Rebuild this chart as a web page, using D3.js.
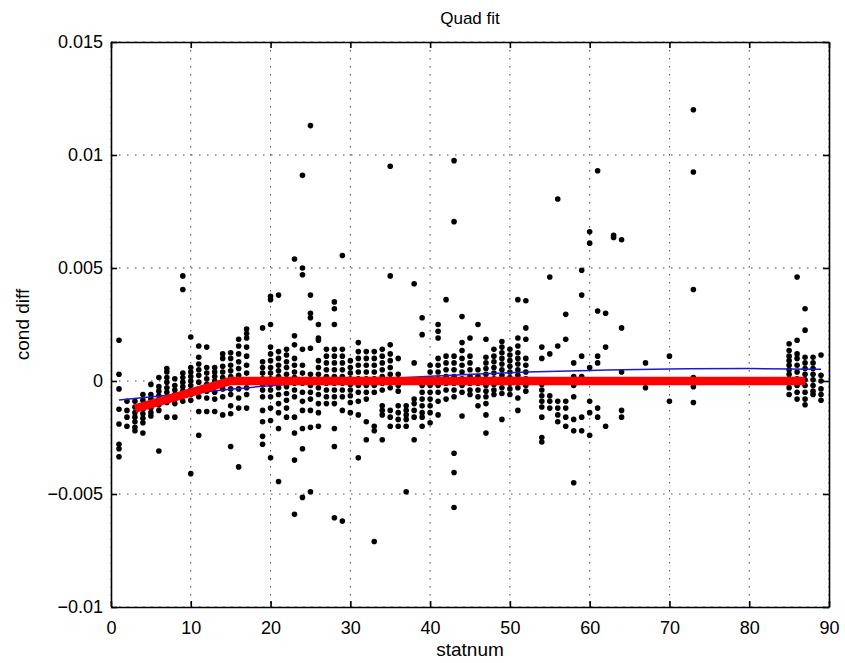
<!DOCTYPE html>
<html>
<head>
<meta charset="utf-8">
<script src="https://cdn.jsdelivr.net/npm/d3@7"></script>
<style>
body { margin: 0; background: #fff; }
text { font-family: "Liberation Sans", Arial, Helvetica, sans-serif; fill: #000; }
</style>
</head>
<body>
<div id="chart"></div>
<script>
//////////////////////////////////////////////
// Data //////////////////////////////////////
//////////////////////////////////////////////
// station numbers and cond diff values (units of 1e-3)
var statnums = [1, 2, 3, 4, 5, 6, 7, 8, 9, 10, 11, 12, 13, 14, 15, 16, 17, 19, 20,
  21, 22, 23, 24, 25, 26, 27, 28, 29, 30, 31, 32, 33, 34, 35, 36, 37, 38, 39, 40,
  41, 42, 43, 44, 45, 46, 47, 48, 49, 50, 51, 52, 54, 55, 56, 57, 58, 59, 60,
  61, 62, 63, 64, 67, 70, 73, 85, 86, 87, 88, 89];

var condDiffMilli = [
  [1.8, 0.3, -0.35, -1.25, -1.9, -2.8, -3.0, -3.35],
  [-0.9, -1.3, -1.6, -2.0],
  [-0.9, -1.15, -1.4, -1.6, -1.8, -2.05, -2.2],
  [-0.6, -0.85, -1.05, -1.25, -1.45, -1.65, -1.85, -2.3],
  [-0.15, -0.6, -0.8, -1.0, -1.2, -1.4, -1.55],
  [0.15, -0.25, -0.45, -0.65, -0.85, -1.05, -1.3, -3.1],
  [0.55, 0.4, 0.15, -0.05, -0.3, -0.5, -0.7, -0.95, -1.6],
  [0.1, -0.2, -0.4, -0.6, -0.8, -1.0, -1.6],
  [4.65, 4.05, 0.35, 0.15, -0.05, -0.25, -0.45, -0.65, -0.9],
  [1.95, 0.6, 0.4, 0.2, 0.0, -0.2, -0.4, -0.6, -0.85, -4.1],
  [1.55, 1.05, 0.75, 0.5, 0.25, -0.05, -0.35, -0.7, -1.35, -2.4],
  [1.5, 0.6, 0.35, 0.1, -0.15, -0.45, -0.75, -1.35],
  [0.6, 0.4, 0.2, 0.0, -0.25, -0.5, -0.8, -1.35],
  [1.2, 1.0, 0.65, 0.4, 0.15, -0.1, -0.35, -0.7, -1.5],
  [1.25, 1.0, 0.7, 0.45, 0.2, -0.05, -0.35, -0.6, -1.1, -1.45, -2.9],
  [1.85, 1.55, 1.2, 0.85, 0.55, 0.25, -0.05, -0.35, -0.75, -1.2, -3.8],
  [2.3, 2.1, 1.9, 1.5, 1.1, 0.7, 0.35, 0.05, -0.3, -0.6, -1.2],
  [2.35, 0.85, 0.6, 0.35, 0.1, -0.15, -0.4, -0.7, -1.3, -1.8, -2.45, -2.8],
  [3.75, 3.6, 2.5, 1.5, 1.2, 0.9, 0.6, 0.35, 0.1, -0.15, -0.4, -0.7, -1.2, -1.75, -3.4],
  [3.8, 1.3, 1.0, 0.7, 0.45, 0.2, -0.05, -0.3, -0.6, -1.0, -1.4, -2.1, -4.45],
  [1.4, 1.15, 0.85, 0.6, 0.3, 0.05, -0.25, -0.55, -0.85, -1.2, -1.6],
  [5.4, 2.0, 1.6, 1.0, 0.7, 0.4, 0.15, -0.1, -0.4, -0.7, -1.6, -2.3, -3.5, -5.9],
  [9.1, 5.0, 4.7, 1.4, 0.7, 0.35, -0.1, -0.5, -0.9, -1.3, -2.1, -3.0, -5.15],
  [11.3, 3.8, 3.0, 2.8, 1.45, 0.3, -0.2, -0.5, -0.8, -1.3, -2.05, -4.9],
  [2.5, 1.9, 1.8, 0.9, 0.6, 0.3, 0.0, -0.3, -0.6, -1.0, -1.4, -2.0],
  [1.4, 1.1, 0.8, 0.5, 0.2, -0.1, -0.4, -0.7, -1.0],
  [3.5, 3.2, 2.5, 1.4, 1.1, 0.8, 0.5, 0.2, -0.1, -0.4, -0.7, -1.0, -2.1, -2.9, -6.05],
  [5.55, 1.4, 1.1, 0.8, 0.5, 0.2, -0.1, -0.4, -0.7, -1.3, -6.2],
  [0.9, 0.6, 0.35, 0.1, -0.15, -0.4, -0.65, -0.95, -1.4],
  [1.7, 1.3, 1.0, 0.7, 0.4, 0.1, -0.2, -0.5, -0.9, -1.5, -3.4],
  [1.3, 1.0, 0.7, 0.4, 0.1, -0.2, -0.5, -0.8, -1.8, -2.6],
  [1.3, 1.0, 0.7, 0.4, 0.1, -0.2, -0.5, -2.0, -2.2, -7.1],
  [1.4, 1.1, 0.8, 0.5, 0.2, -0.1, -0.4, -1.1, -1.3, -1.5, -2.6],
  [9.5, 4.65, 1.6, 1.2, 0.9, 0.6, 0.3, 0.0, -0.3, -1.3, -1.6, -2.0],
  [1.0, 0.3, 0.05, -0.2, -0.45, -1.1, -1.4, -1.7, -2.0],
  [-1.1, -1.3, -1.5, -1.7, -2.0, -4.9],
  [4.3, 0.8, -0.8, -1.0, -1.3, -1.6, -2.6],
  [2.8, 2.05, -0.2, -0.5, -0.8, -1.1, -1.4, -1.6, -2.0],
  [0.7, 0.4, 0.1, -0.2, -0.5, -0.8, -1.1, -1.4, -1.85],
  [2.5, 2.2, 1.9, 1.0, 0.7, 0.4, 0.1, -0.2, -0.5, -0.9, -1.5],
  [3.6, 1.1, 0.8, 0.5, 0.2, -0.1, -0.4, -0.8],
  [9.75, 7.05, 1.1, 0.8, 0.5, 0.2, -0.1, -0.4, -0.7, -3.2, -4.05, -5.6],
  [2.85, 1.7, 1.35, 1.0, 0.7, 0.4, 0.1, -0.2, -0.5, -1.55],
  [1.9, 1.1, 0.8, 0.5, 0.2, -0.1, -0.4, -0.6],
  [2.5, 0.5, 0.2, -0.1, -0.4, -0.7, -1.1],
  [1.85, 1.05, 0.8, 0.55, 0.3, 0.05, -0.2, -0.45, -0.7, -1.0, -1.5, -2.3],
  [1.4, 1.1, 0.85, 0.6, 0.35, 0.1, -0.15, -0.4, -0.6],
  [1.75, 1.5, 1.25, 1.0, 0.75, 0.5, 0.25, 0.0, -0.3, -0.55, -1.7],
  [1.4, 1.15, 0.9, 0.65, 0.4, 0.15, -0.1, -0.35, -0.6],
  [3.6, 1.9, 1.55, 1.25, 1.0, 0.75, 0.5, 0.25, 0.0, -0.3, -0.75, -1.3],
  [3.55, 2.35, 1.85, 1.0, 0.7, 0.4, 0.1, -0.2, -0.45],
  [1.5, 1.0, -0.15, -0.4, -0.65, -0.9, -1.15, -1.6, -2.5, -2.7],
  [4.6, 1.2, -0.65, -0.9, -1.2],
  [8.05, 1.55, -0.9, -1.2, -1.5, -1.8],
  [2.95, 1.85, -0.9, -1.2, -1.6, -2.0],
  [0.8, 0.2, -0.2, -0.7, -1.7, -2.2, -4.5],
  [4.9, 3.8, 1.1, 0.2, -1.6, -2.2],
  [6.6, 6.1, 0.6, -0.9, -1.4, -2.4],
  [9.3, 3.1, 1.1, 0.8, -1.2, -1.6],
  [3.0, 1.5, -2.0],
  [6.45, 6.35],
  [6.25, 2.35, 0.4, -1.3, -1.6],
  [0.8, -0.3],
  [1.1, -0.9],
  [12.0, 9.25, 4.05, 0.15, -0.25, -0.95],
  [1.65, 1.35, 1.1, 0.9, 0.7, 0.5, 0.3, 0.1, -0.1, -0.3, -0.6],
  [4.6, 1.8, 1.2, 1.0, 0.7, 0.4, 0.1, -0.2, -0.5, -0.8],
  [3.2, 2.25, 1.05, 0.8, 0.55, 0.3, 0.05, -0.2, -0.5, -0.8, -1.05],
  [1.05, 0.8, 0.55, 0.3, 0.05, -0.2, -0.45, -0.6],
  [1.15, 0.25, 0.0, -0.35, -0.6, -0.85]
];

// piecewise fit (red)
var pieceX = [3, 15, 87];
var pieceY = [-0.00122, 0, 0];

// quad fit (blue), read at a few stations
var quadX = [1, 10, 20, 30, 40, 50, 60, 70, 80, 89];
var quadY = [-0.00084, -0.00053, -0.00021, 0.00001, 0.00021, 0.00037, 0.00047, 0.000535, 0.00055, 0.00052];

// ticks
var xTicks = [0, 10, 20, 30, 40, 50, 60, 70, 80, 90];
var yTicks = [-0.01, -0.005, 0, 0.005, 0.01, 0.015];
var yTickLabels = ["\u22120.01", "\u22120.005", "0", "0.005", "0.01", "0.015"];

// flatten to points
var points = [];
statnums.forEach(function(s, i) {
  condDiffMilli[i].forEach(function(v) {
    points.push({x: s, y: v / 1000});
  });
});

//////////////////////////////////////////////
// Chart Config /////////////////////////////
//////////////////////////////////////////////
var margin = {top: 42, right: 16, bottom: 56, left: 111};
var width = 845 - margin.left - margin.right,
    height = 663 - margin.top - margin.bottom;

var xScale = d3.scaleLinear().domain([0, 90]).range([0, width]);
var yScale = d3.scaleLinear().domain([-0.01, 0.015]).range([height, 0]);

var svg = d3.select("#chart")
  .append("svg")
  .attr("width", 845)
  .attr("height", 663);

var artboard = svg.append("g")
  .attr("transform", "translate(" + margin.left + "," + margin.top + ")");

// grid (dotted)
var grid = artboard.append("g").attr("class", "grid")
  .style("stroke", "#444")
  .style("stroke-width", 1)
  .style("stroke-dasharray", "1.5,6.5");

grid.selectAll(".gx").data(xTicks).enter().append("line")
  .attr("x1", function(d) { return xScale(d); })
  .attr("x2", function(d) { return xScale(d); })
  .attr("y1", 0).attr("y2", height);

grid.selectAll(".gy").data(yTicks).enter().append("line")
  .attr("y1", function(d) { return yScale(d); })
  .attr("y2", function(d) { return yScale(d); })
  .attr("x1", 0).attr("x2", width);

// scatter
artboard.append("g").selectAll("circle")
  .data(points)
  .enter().append("circle")
  .attr("cx", function(d) { return xScale(d.x); })
  .attr("cy", function(d) { return yScale(d.y); })
  .attr("r", 2.8)
  .style("fill", "#000");

// quad fit line
var quadLine = d3.line()
  .curve(d3.curveNatural)
  .x(function(d, i) { return xScale(quadX[i]); })
  .y(function(d) { return yScale(d); });

artboard.append("path")
  .datum(quadY)
  .attr("d", quadLine)
  .style("fill", "none")
  .style("stroke", "#1a1ad0")
  .style("stroke-width", 1.5);

// piecewise line
var pieceLine = d3.line()
  .x(function(d, i) { return xScale(pieceX[i]); })
  .y(function(d) { return yScale(d); });

artboard.append("path")
  .datum(pieceY)
  .attr("d", pieceLine)
  .style("fill", "none")
  .style("stroke", "#ff0000")
  .style("stroke-width", 8.5);

// axes, ticks inward on all four sides
var xAxis = d3.axisBottom(xScale).tickValues(xTicks).tickSize(-6).tickSizeOuter(0).tickPadding(14);
var yAxis = d3.axisLeft(yScale).tickValues(yTicks).tickSize(-6).tickSizeOuter(0).tickPadding(8)
  .tickFormat(function(d, i) { return yTickLabels[i]; });
var xAxisTop = d3.axisTop(xScale).tickValues(xTicks).tickSize(-6).tickSizeOuter(0).tickFormat("");
var yAxisRight = d3.axisRight(yScale).tickValues(yTicks).tickSize(-6).tickSizeOuter(0).tickFormat("");

var xAxisEl = artboard.append("g")
  .attr("transform", "translate(0," + height + ")")
  .call(xAxis);
var yAxisEl = artboard.append("g").call(yAxis);
var topEl = artboard.append("g").call(xAxisTop);
var rightEl = artboard.append("g")
  .attr("transform", "translate(" + width + ",0)")
  .call(yAxisRight);

[xAxisEl, yAxisEl, topEl, rightEl].forEach(function(el) {
  el.selectAll("path, line").style("stroke", "#000").style("stroke-width", 1.6);
  el.selectAll("text").style("font-size", "18px").style("fill", "#000")
    .style("font-family", "'Liberation Sans', Arial, sans-serif");
});

// labels
svg.append("text")
  .attr("x", margin.left + width / 2)
  .attr("y", 24)
  .attr("text-anchor", "middle")
  .style("font-size", "17px")
  .text("Quad fit");

svg.append("text")
  .attr("x", margin.left + width / 2)
  .attr("y", 656)
  .attr("text-anchor", "middle")
  .style("font-size", "19px")
  .text("statnum");

svg.append("text")
  .attr("transform", "translate(29," + (margin.top + height / 2) + ") rotate(-90)")
  .attr("text-anchor", "middle")
  .style("font-size", "19px")
  .text("cond diff");
</script>
</body>
</html>
